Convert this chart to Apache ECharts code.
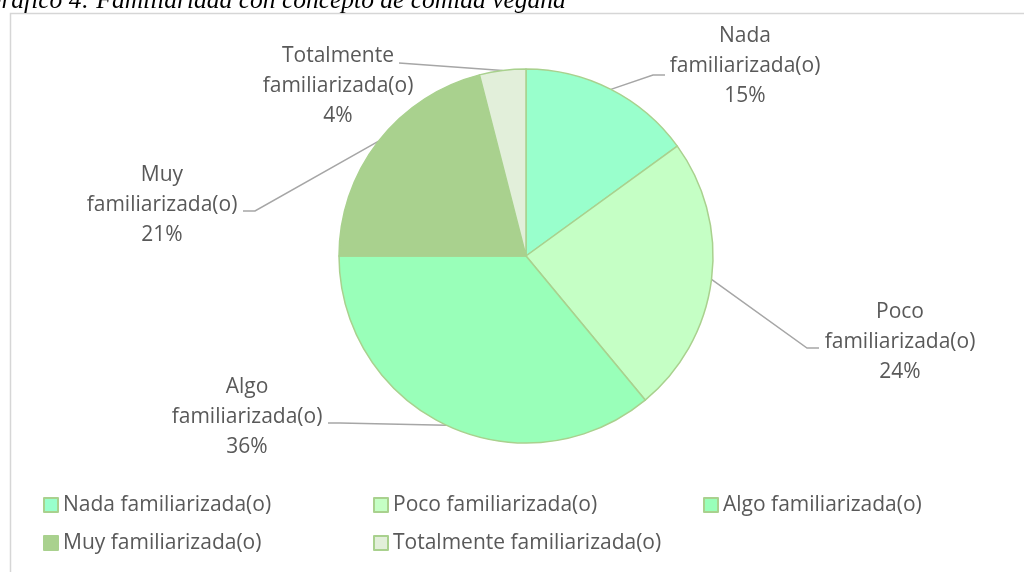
<!DOCTYPE html>
<html>
<head>
<meta charset="utf-8">
<script src="https://cdn.jsdelivr.net/npm/echarts@6/dist/echarts.min.js"></script>
<style>
  html, body { margin: 0; padding: 0; background: #fff; }
  #grafico { width: 1024px; height: 572px; }
</style>
</head>
<body>
<div id="grafico"></div>
<script>
// datos
const categorias = ['Nada familiarizada(o)', 'Poco familiarizada(o)', 'Algo familiarizada(o)', 'Muy familiarizada(o)', 'Totalmente familiarizada(o)'];
const valores = [15, 24, 36, 21, 4];
const colores = ['#99FFCC', '#C5FFC5', '#99FFB9', '#A9D18E', '#E2EFDA'];
const titulo = 'Gráfico 4: Familiaridad con concepto de comida vegana';

// ubicación de cada etiqueta (centro) y enganche de la línea guía
const etiquetas = [
  {x: 745, y: 66, ax: -80, ay: 9, stub: 12},
  {x: 900, y: 342, ax: -81, ay: 6, stub: 12},
  {x: 247, y: 417, ax: 81, ay: 6, stub: 12},
  {x: 162, y: 205, ax: 81, ay: 6, stub: 12},
  {x: 338, y: 86, ax: 61, ay: -23, stub: 0}
];

const fuente = 'Open Sans';
const chart = echarts.init(document.getElementById('grafico'));

function leyenda(items, left) {
  return {
    data: items,
    orient: 'vertical',
    left: left,
    top: 490,
    padding: 0,
    icon: 'rect',
    itemWidth: 14,
    itemHeight: 14,
    itemGap: 8,
    selectedMode: false,
    textStyle: {
      fontFamily: fuente,
      fontSize: 21,
      lineHeight: 30,
      color: '#595959'
    }
  };
}

const option = {
  animation: false,
  color: colores,
  graphic: [
    {
      type: 'rect',
      silent: true,
      shape: {x: 10.5, y: 13.5, width: 1100, height: 700},
      style: {fill: 'none', stroke: '#D6D6D6', lineWidth: 1.5}
    },
    {
      // título, recortado arriba como en el original
      type: 'text',
      silent: true,
      x: -17,
      y: 1,
      style: {
        text: titulo,
        fontFamily: 'Liberation Serif',
        fontStyle: 'italic',
        fontSize: 25.5,
        fill: '#000',
        verticalAlign: 'middle'
      }
    }
  ],
  legend: [
    leyenda([categorias[0], categorias[3]], 43),
    leyenda([categorias[1], categorias[4]], 373),
    leyenda([categorias[2]], 703)
  ],
  series: [
    {
      type: 'pie',
      center: [526, 256],
      radius: 187,
      startAngle: 90,
      clockwise: true,
      avoidLabelOverlap: false,
      emphasis: {disabled: true},
      itemStyle: {
        borderColor: '#A9D18E',
        borderWidth: 1.5
      },
      label: {
        show: true,
        position: 'outside',
        fontFamily: fuente,
        fontSize: 21,
        lineHeight: 30,
        color: '#595959',
        formatter: function (p) {
          return p.name.replace(' ', '\n') + '\n' + p.percent + '%';
        }
      },
      labelLine: {
        show: true,
        length: 10,
        length2: 10,
        smooth: false,
        lineStyle: {color: '#A6A6A6', width: 1.5}
      },
      labelLayout: function (params) {
        const e = etiquetas[params.dataIndex];
        const fin = [e.x + e.ax, e.y + e.ay];
        const codo = [fin[0] + (e.ax < 0 ? -e.stub : e.stub), fin[1]];
        const res = {x: e.x, y: e.y, align: 'center', verticalAlign: 'middle'};
        if (params.labelLinePoints) {
          res.labelLinePoints = [params.labelLinePoints[0], codo, fin];
        }
        return res;
      },
      data: categorias.map(function (c, i) {
        return {name: c, value: valores[i]};
      })
    }
  ]
};

chart.setOption(option);
</script>
</body>
</html>
